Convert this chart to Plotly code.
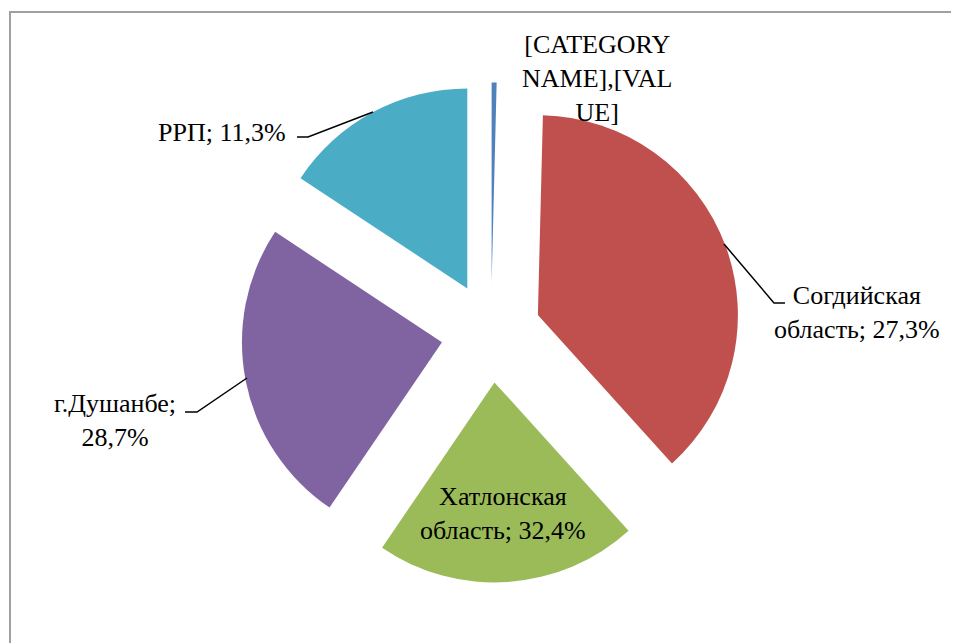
import plotly.graph_objects as go

# slice order as drawn clockwise from 12 o'clock
regions = ["[CATEGORY NAME]", "Согдийская область", "Хатлонская область", "г.Душанбе", "РРП"]
shares = [0.4, 37.9, 21.2, 24.8, 15.7]   # visual slice sizes
label_texts = ["[CATEGORY<br>NAME],[VAL<br>UE]",
               "Согдийская<br>область; 27,3%",
               "Хатлонская<br>область; 32,4%",
               "г.Душанбе;<br>28,7%",
               "РРП; 11,3%"]
colors = ["#4F81BD", "#C0504D", "#9BBB59", "#8064A2", "#4BACC6"]

W, H = 959, 643
OFF = 8  # page body margin in the browser
cx, cy, r, pull = 491, 332.5, 200, 0.25
half = r * (1 + pull)
fx, fy = cx - OFF, cy - OFF

fig = go.Figure()
fig.add_trace(go.Pie(
    labels=regions, values=shares, sort=False, direction="clockwise", rotation=0,
    pull=[pull] * len(shares), marker=dict(colors=colors, line=dict(width=0)),
    textinfo="none", hoverinfo="skip", showlegend=False,
    domain=dict(x=[(fx - half) / W, (fx + half) / W],
                y=[1 - (fy + half) / H, 1 - (fy - half) / H]),
))

# label positions (page pixels) and leader lines
label_pos = [(597, 78), (857, 312), (503, 513), (115, 420), (222, 132)]
leaders = [None,
           [(724, 244), (774, 303), (785, 303)],
           None,
           [(185, 412), (197, 412), (247, 378)],
           [(297, 137), (308, 137), (373, 112)]]

font = dict(family="Liberation Serif", size=26, color="#000000")
for txt, (px, py) in zip(label_texts, label_pos):
    fig.add_annotation(x=px, y=py, xref="x", yref="y", text=txt, showarrow=False,
                       xanchor="center", yanchor="middle", font=font)

for pts in leaders:
    if pts:
        path = "M " + " L ".join(f"{x},{y}" for x, y in pts)
        fig.add_shape(type="path", path=path, xref="x", yref="y",
                      line=dict(color="#000000", width=1.5))

# chart frame (only top and left edges visible in the crop)
fig.add_shape(type="rect", x0=10, y0=12, x1=990, y1=690, xref="x", yref="y",
              line=dict(color="#A0A0A0", width=2), layer="below")

fig.update_layout(
    width=W, height=H, margin=dict(l=0, r=0, t=0, b=0),
    paper_bgcolor="white", plot_bgcolor="rgba(0,0,0,0)",
    xaxis=dict(range=[OFF, W + OFF], visible=False, fixedrange=True),
    yaxis=dict(range=[H + OFF, OFF], visible=False, fixedrange=True),
)

fig.write_html("out.html")
